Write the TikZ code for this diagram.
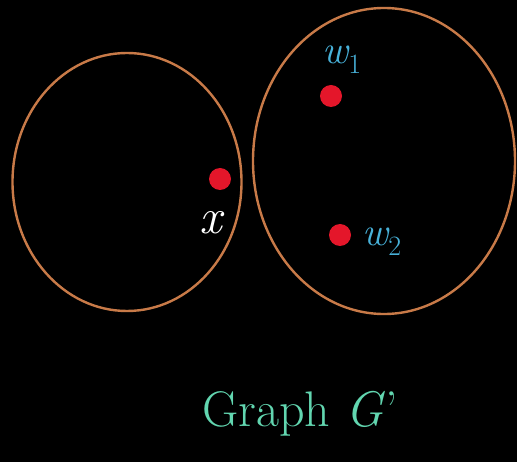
\documentclass[tikz,border=0pt]{standalone}
\usepackage{xcolor}
\usepackage{tikz}
\usetikzlibrary{shapes.geometric, positioning}
\definecolor{board}{RGB}{0,0,0}
\definecolor{rim}{RGB}{200,122,72}
\definecolor{vtx}{RGB}{228,22,42}
\definecolor{wlab}{RGB}{72,178,218}
\definecolor{ttl}{RGB}{98,214,176}
\tikzset{
  part/.style={ellipse, draw=rim, line width=2.4pt, inner sep=0pt},
  dot/.style={circle, fill=vtx, minimum size=22pt, inner sep=0pt},
  wname/.style={text=wlab, font=\fontsize{40}{40}\selectfont\itshape},
  xname/.style={text=white, font=\fontsize{50}{50}\selectfont\itshape},
}

\begin{document}
\begin{tikzpicture}[x=1pt,y=-1pt]
\fill[board] (0,0) rectangle (517,462);
\useasboundingbox (0,0) rectangle (517,462);
\node[part, minimum width=229pt, minimum height=258pt] (lpart) at (127,182) {};
\node[part, minimum width=262pt, minimum height=306pt] (rpart) at (384,161) {};
\node[dot] (x)  at (220,179) {};
\node[dot] (w1) at (331,96) {};
\node[dot] (w2) at (340,235) {};
\node[xname] (xl)  at (211,223) {x};
\node[wname] (w1l) at (342,60) {w\textsubscript{\upshape 1}};
\node[wname] (w2l) at (382,242) {w\textsubscript{\upshape 2}};
\node[text=ttl, font=\fontsize{50}{50}\selectfont] (title) at (300,414) {Graph \textit{G}'};
\end{tikzpicture}
\end{document}
